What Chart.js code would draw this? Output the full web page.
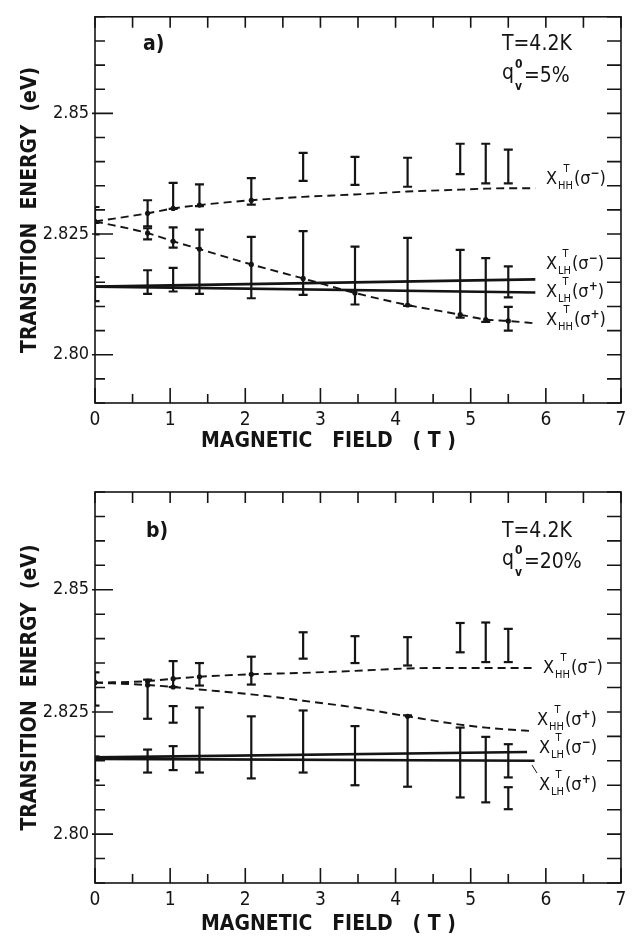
<!DOCTYPE html>
<html>
<head>
<meta charset="utf-8">
<title>Transition energy vs magnetic field</title>
<script src="https://cdn.jsdelivr.net/npm/chart.js@4.4.0/dist/chart.umd.min.js"></script>
<style>
    body { margin: 0; background: #fff; }
    .panel { position: absolute; left: 0; width: 634px; }
    #wrapA { top: 0; height: 468px; }
    #wrapB { top: 468px; height: 469px; }
</style>
</head>
<body>
<div class="panel" id="wrapA"><canvas id="chartA"></canvas></div>
<div class="panel" id="wrapB"><canvas id="chartB"></canvas></div>
<script>
// magnetic field of the measured points (T), same for both panels
const fields = [0, 0.7, 1.04, 1.39, 2.08, 2.77, 3.46, 4.16, 4.86, 5.2, 5.5];

// tick labels
const xLabelTexts = ['0', '1', '2', '3', '4', '5', '6', '7'];
const yLabelValues = [2.80, 2.825, 2.85];
const yLabelTexts = ['2.80', '2.825', '2.85'];

// ---- panel a) q_v^0 = 5% ----
const curveFieldsA = [0, 0.7, 1.04, 1.39, 2.08, 2.77, 3.46, 4.16, 4.86, 5.2, 5.5, 5.86];
const hhMinusCurveA = [2.8276, 2.8293, 2.8303, 2.8310, 2.8320, 2.8327, 2.8332, 2.8338, 2.8342, 2.8344, 2.8345, 2.8345];
const hhPlusCurveA = [2.8276, 2.8252, 2.8235, 2.8219, 2.8187, 2.8158, 2.8128, 2.8103, 2.8083, 2.8073, 2.8070, 2.8065];
const lhLineFieldsA = [0, 5.86];
const lhMinusLineA = [2.8141, 2.8156];
const lhPlusLineA = [2.8141, 2.8129];
// measured ranges [low, high] in eV, aligned with fields
const hhMinusBarsA = [[2.8273, 2.8306], [2.8266, 2.8320], [2.8302, 2.8356], [2.8308, 2.8353], [2.8311, 2.8366], [2.8360, 2.8418],
                      [2.8352, 2.8410], [2.8348, 2.8408], [2.8374, 2.8437], [2.8355, 2.8437], [2.8355, 2.8425]];
const hhPlusBarsA = [[2.8249, 2.8276], [2.8239, 2.8262], [2.8222, 2.8264], null, null, null, null, null, null, null, [2.8050, 2.8099]];
const lhBarsA = [[2.8111, 2.8161], [2.8126, 2.8175], [2.8131, 2.8180], [2.8126, 2.8259], [2.8117, 2.8244], [2.8124, 2.8256],
                 [2.8104, 2.8224], [2.8101, 2.8242], [2.8077, 2.8217], [2.8068, 2.8200], [2.8119, 2.8183]];

// ---- panel b) q_v^0 = 20% ----
const curveFieldsB = [0, 0.7, 1.04, 1.39, 2.08, 2.77, 3.46, 4.16, 4.86, 5.2, 5.5, 5.81];
const hhMinusCurveB = [2.8310, 2.8313, 2.8318, 2.8322, 2.8327, 2.8330, 2.8334, 2.8339, 2.8340, 2.8340, 2.8340, 2.8340];
const hhPlusCurveB = [2.8310, 2.8305, 2.8301, 2.8296, 2.8286, 2.8273, 2.8259, 2.8241, 2.8224, 2.8218, 2.8214, 2.8211];
const lhMinusFieldsB = [0, 5.75];
const lhMinusLineB = [2.8157, 2.8168];
const lhPlusFieldsB = [0, 5.85];
const lhPlusLineB = [2.8154, 2.8150];
const hhMinusBarsB = [[2.8263, 2.8331], null, [2.8301, 2.8354], [2.8304, 2.8350], [2.8306, 2.8363], [2.8359, 2.8413],
                      [2.8350, 2.8405], [2.8345, 2.8403], [2.8372, 2.8432], [2.8352, 2.8433], [2.8352, 2.8420]];
const hhPlusBarsB = [null, [2.8236, 2.8316], [2.8228, 2.8262], null, null, null, null, null, null, null, [2.8051, 2.8096]];
const lhBarsB = [[2.8110, 2.8159], [2.8126, 2.8173], [2.8131, 2.8180], [2.8126, 2.8259], [2.8114, 2.8241], [2.8126, 2.8253],
                 [2.8100, 2.8221], [2.8097, 2.8243], [2.8075, 2.8218], [2.8065, 2.8199], [2.8116, 2.8184]];

document.addEventListener('DOMContentLoaded', function() {
    const ink = '#141414';
    const family = '"Liberation Sans Narrow", "DejaVu Sans Condensed", "DejaVu Sans", sans-serif';

    function toXY(xs, ys) {
        return xs.map((x, i) => ({ x: x, y: ys[i] }));
    }

    // each bar = two points joined by a line, then a gap; caps come from pointStyle 'line'
    function errorBarPoints(xs, bars) {
        const pts = [];
        bars.forEach((b, i) => {
            if (!b) return;
            pts.push({ x: xs[i], y: b[0] }, { x: xs[i], y: b[1] }, { x: xs[i], y: null });
        });
        return pts;
    }

    function isLabelled(v) {
        return yLabelValues.findIndex(l => Math.abs(l - v) < 1e-7);
    }

    // a dot where a curve passes through one of the measured bars
    function dotRadius(allBars) {
        return ctx => {
            const i = ctx.dataIndex;
            if (i >= fields.length) return 0;
            const v = ctx.raw.y;
            return allBars.some(bars => bars[i] && v >= bars[i][0] && v <= bars[i][1]) ? 2.6 : 0;
        };
    }

    const curveStyle = { borderColor: ink, borderWidth: 1.9, borderDash: [8, 5], pointBackgroundColor: ink,
                         pointBorderWidth: 0, cubicInterpolationMode: 'monotone', fill: false };
    const lhStyle = { borderColor: ink, borderWidth: 2.6, pointRadius: 0, fill: false };
    const barStyle = { borderColor: ink, borderWidth: 2.2, pointStyle: 'line', pointRadius: 4.5, pointBorderWidth: 2.2,
                       pointBorderColor: ink, spanGaps: false, fill: false };

    // box with inward ticks on all four sides
    const framePlugin = {
        id: 'frame',
        afterDatasetsDraw(chart) {
            const { ctx, chartArea: a, scales: { x, y } } = chart;
            ctx.save();
            ctx.strokeStyle = ink;
            ctx.lineWidth = 1.6;
            ctx.strokeRect(a.left, a.top, a.right - a.left, a.bottom - a.top);
            ctx.beginPath();
            x.ticks.forEach(t => {
                const px = x.getPixelForValue(t.value);
                const major = Number.isInteger(t.value);
                ctx.moveTo(px, a.bottom); ctx.lineTo(px, a.bottom - (major ? 15 : 9));
                ctx.moveTo(px, a.top); ctx.lineTo(px, a.top + 11);
            });
            y.ticks.forEach(t => {
                const py = y.getPixelForValue(t.value);
                const major = isLabelled(t.value) >= 0;
                ctx.moveTo(a.left - (major ? 3 : 0), py); ctx.lineTo(a.left + (major ? 18 : 10), py);
                ctx.moveTo(a.right, py); ctx.lineTo(a.right - 14, py);
            });
            ctx.stroke();
            ctx.restore();
        }
    };

    function drawTransition(ctx, x, y, sub, pol) {
        ctx.font = '18px ' + family;
        ctx.fillText('X', x, y);
        let cx = x + ctx.measureText('X').width + 1;
        ctx.font = '11px ' + family;
        ctx.fillText(sub, cx, y + 5);
        const sw = ctx.measureText(sub).width;
        ctx.fillText('T', cx + sw / 2 - 2, y - 12);
        cx += sw + 1;
        ctx.font = '18px ' + family;
        ctx.fillText('(σ', cx, y);
        cx += ctx.measureText('(σ').width;
        ctx.font = 'bold 12px ' + family;
        ctx.fillText(pol, cx, y - 7);
        cx += ctx.measureText(pol).width;
        ctx.font = '18px ' + family;
        ctx.fillText(')', cx, y);
    }

    // panel tag, conditions and curve names
    const notesPlugin = {
        id: 'notes',
        afterDraw(chart, args, opts) {
            const ctx = chart.ctx;
            ctx.save();
            ctx.fillStyle = ink;
            ctx.textBaseline = 'alphabetic';
            ctx.textAlign = 'left';
            ctx.font = 'bold 21px ' + family;
            ctx.fillText(opts.tag, opts.tagX, opts.tagY);
            ctx.font = '21px ' + family;
            ctx.fillText('T=4.2K', opts.condX, opts.tagY);
            ctx.fillText('q', opts.condX, opts.qY - 3);
            ctx.font = 'bold 12px ' + family;
            ctx.fillText('0', opts.condX + 13, opts.qY - 14);
            ctx.fillText('v', opts.condX + 13, opts.qY + 8);
            ctx.font = '21px ' + family;
            ctx.fillText('=' + opts.q, opts.condX + 22, opts.qY);
            opts.names.forEach(n => drawTransition(ctx, n.x, n.y, n.sub, n.pol));
            if (opts.leader) {
                ctx.strokeStyle = ink;
                ctx.lineWidth = 1;
                ctx.beginPath();
                ctx.moveTo(opts.leader[0], opts.leader[1]);
                ctx.lineTo(opts.leader[2], opts.leader[3]);
                ctx.stroke();
            }
            ctx.restore();
        }
    };

    function makePanel(canvasId, d, lay) {
        const allBars = [d.hhMinusBars, d.hhPlusBars, d.lhBars];
        new Chart(document.getElementById(canvasId), {
            type: 'line',
            data: {
                datasets: [
                    { ...curveStyle, pointRadius: dotRadius(allBars), data: toXY(d.curveFields, d.hhMinus) },
                    { ...curveStyle, pointRadius: dotRadius(allBars), data: toXY(d.curveFields, d.hhPlus) },
                    { ...lhStyle, data: toXY(d.lhMinusFields, d.lhMinus) },
                    { ...lhStyle, data: toXY(d.lhPlusFields, d.lhPlus) },
                    { ...barStyle, data: errorBarPoints(fields, d.hhMinusBars) },
                    { ...barStyle, data: errorBarPoints(fields, d.hhPlusBars) },
                    { ...barStyle, data: errorBarPoints(fields, d.lhBars) }
                ]
            },
            options: {
                responsive: true,
                maintainAspectRatio: false,
                animation: false,
                layout: { padding: { left: 0, right: 13, top: lay.top, bottom: 0 } },
                plugins: {
                    legend: { display: false },
                    tooltip: { enabled: false },
                    notes: lay.notes
                },
                scales: {
                    x: {
                        type: 'linear', min: 0, max: 7,
                        grid: { display: false, drawTicks: false },
                        border: { display: false },
                        ticks: {
                            stepSize: 0.5, autoSkip: false, maxRotation: 0, padding: 6, color: ink,
                            font: { family: family, size: 19 },
                            callback: v => Number.isInteger(v) ? xLabelTexts[v] : ''
                        },
                        title: {
                            display: true, text: 'MAGNETIC   FIELD   ( T )\u00a0\u00a0\u00a0\u00a0\u00a0\u00a0\u00a0\u00a0\u00a0', color: ink,
                            font: { family: family, size: 21, weight: 'bold' },
                            padding: { top: 0, bottom: lay.titlePad }
                        },
                        afterFit: s => { s.height = lay.xHeight; }
                    },
                    y: {
                        type: 'linear', min: 2.79, max: 2.87,
                        grid: { display: false, drawTicks: false },
                        border: { display: false },
                        ticks: {
                            stepSize: 0.005, autoSkip: false, padding: 6, color: ink,
                            font: { family: family, size: 18 },
                            callback: v => { const i = isLabelled(v); return i >= 0 ? yLabelTexts[i] : ''; }
                        },
                        title: {
                            display: true, text: 'TRANSITION  ENERGY  (eV)', color: ink,
                            font: { family: family, size: 21, weight: 'bold' },
                            padding: { top: 18, bottom: 0 }
                        },
                        afterFit: s => { s.width = 95; }
                    }
                }
            },
            plugins: [framePlugin, notesPlugin]
        });
    }

    makePanel('chartA', {
        curveFields: curveFieldsA, hhMinus: hhMinusCurveA, hhPlus: hhPlusCurveA,
        lhMinusFields: lhLineFieldsA, lhMinus: lhMinusLineA, lhPlusFields: lhLineFieldsA, lhPlus: lhPlusLineA,
        hhMinusBars: hhMinusBarsA, hhPlusBars: hhPlusBarsA, lhBars: lhBarsA
    }, {
        top: 7, xHeight: 65, titlePad: 14,
        notes: {
            tag: 'a)', tagX: 143, tagY: 50, condX: 502, qY: 82, q: '5%',
            names: [
                { x: 546, y: 184, sub: 'HH', pol: '−' },
                { x: 546, y: 269, sub: 'LH', pol: '−' },
                { x: 546, y: 297, sub: 'LH', pol: '+' },
                { x: 546, y: 325, sub: 'HH', pol: '+' }
            ]
        }
    });

    makePanel('chartB', {
        curveFields: curveFieldsB, hhMinus: hhMinusCurveB, hhPlus: hhPlusCurveB,
        lhMinusFields: lhMinusFieldsB, lhMinus: lhMinusLineB, lhPlusFields: lhPlusFieldsB, lhPlus: lhPlusLineB,
        hhMinusBars: hhMinusBarsB, hhPlusBars: hhPlusBarsB, lhBars: lhBarsB
    }, {
        top: 24, xHeight: 54, titlePad: 0,
        notes: {
            tag: 'b)', tagX: 146, tagY: 69, condX: 502, qY: 100, q: '20%',
            names: [
                { x: 543, y: 205, sub: 'HH', pol: '−' },
                { x: 537, y: 257, sub: 'HH', pol: '+' },
                { x: 539, y: 285, sub: 'LH', pol: '−' },
                { x: 539, y: 322, sub: 'LH', pol: '+' }
            ],
            leader: [532, 297, 537, 305]
        }
    });
});
</script>
</body>
</html>
